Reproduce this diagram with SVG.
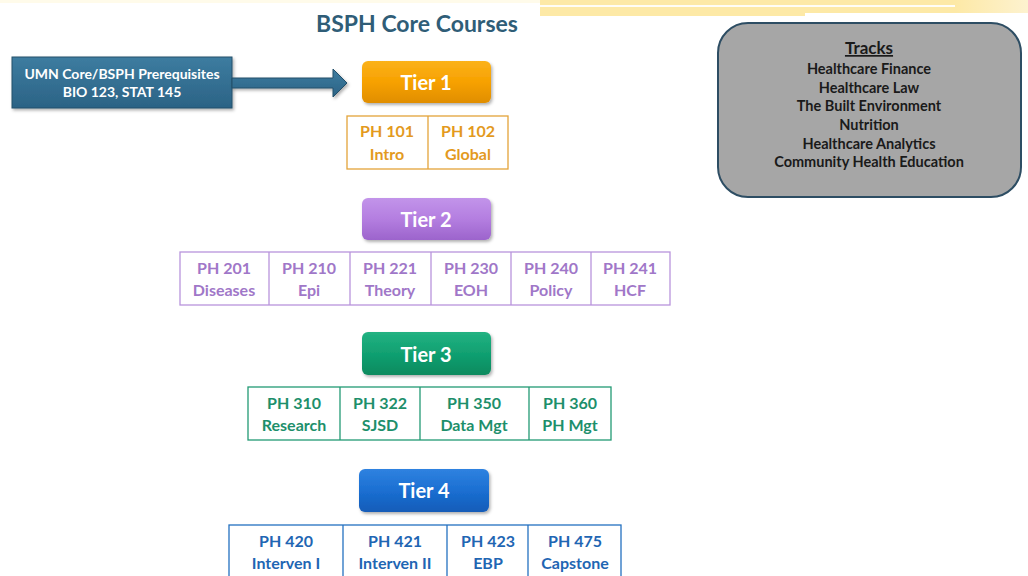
<svg xmlns="http://www.w3.org/2000/svg" width="1028" height="576" viewBox="0 0 1028 576">
  <defs>
    <linearGradient id="gOrange" x1="0" y1="0" x2="0" y2="1">
      <stop offset="0" stop-color="#fbb21a"/>
      <stop offset="0.5" stop-color="#f7a100"/>
      <stop offset="1" stop-color="#e08e00"/>
    </linearGradient>
    <linearGradient id="gPurple" x1="0" y1="0" x2="0" y2="1">
      <stop offset="0" stop-color="#c294ea"/>
      <stop offset="0.5" stop-color="#b47ee0"/>
      <stop offset="1" stop-color="#9c64cc"/>
    </linearGradient>
    <linearGradient id="gGreen" x1="0" y1="0" x2="0" y2="1">
      <stop offset="0" stop-color="#22b282"/>
      <stop offset="0.5" stop-color="#11a071"/>
      <stop offset="1" stop-color="#0a8a5e"/>
    </linearGradient>
    <linearGradient id="gBlue" x1="0" y1="0" x2="0" y2="1">
      <stop offset="0" stop-color="#2f82e0"/>
      <stop offset="0.5" stop-color="#1b6fd2"/>
      <stop offset="1" stop-color="#125cb8"/>
    </linearGradient>
    <linearGradient id="gSteel" x1="0" y1="0" x2="0" y2="1">
      <stop offset="0" stop-color="#3d7ca0"/>
      <stop offset="1" stop-color="#2b6385"/>
    </linearGradient>
    <linearGradient id="gBand" x1="0" y1="0" x2="1" y2="0">
      <stop offset="0" stop-color="#fde9a6"/>
      <stop offset="0.85" stop-color="#fde9a6"/>
      <stop offset="1" stop-color="#fdf2cf"/>
    </linearGradient>
    <filter id="shadow" x="-10%" y="-10%" width="125%" height="140%">
      <feDropShadow dx="1.5" dy="2" stdDeviation="1.5" flood-color="#000" flood-opacity="0.3"/>
    </filter>
    <style>
      text { font-family: Lato, "Liberation Sans", sans-serif; font-weight: bold; text-anchor: middle; }
      .title { font-size: 23px; fill: #2f5d77; }
      .btn { font-size: 20px; fill: #ffffff; }
      .pre { font-size: 14px; fill: #ffffff; }
      .trk { font-size: 14.5px; fill: #1a1a1a; }
      .trkh { font-size: 17px; fill: #1a1a1a; text-decoration: underline; }
      .course { font-size: 16px; }
      .cell { fill: #ffffff; stroke-width: 1.3; }
      .t1 rect.cell, .t1 line { stroke: #e3a43a; }
      .t1 text { fill: #e39a1e; }
      .t2 rect.cell, .t2 line { stroke: #b894dc; }
      .t2 text { fill: #a077c8; }
      .t3 rect.cell, .t3 line { stroke: #239a74; }
      .t3 text { fill: #1d8f6b; }
      .t4 rect.cell, .t4 line { stroke: #2471c0; }
      .t4 text { fill: #1f66b3; }
      line { stroke-width: 1.3; }
    </style>
  </defs>

  <rect width="1028" height="576" fill="#ffffff"/>

  <!-- header band -->
  <rect x="0" y="0" width="1028" height="3" fill="#fffbea"/>
  <rect x="540" y="0" width="488" height="16" fill="url(#gBand)"/>
  <rect x="540" y="5" width="415" height="2" fill="#fffdf5"/>
  <rect x="805" y="13" width="223" height="3" fill="#ffffff"/>

  <text class="title" x="417" y="32">BSPH Core Courses</text>

  <!-- prerequisites -->
  <g id="prereq">
    <rect x="12" y="57" width="220" height="51" fill="url(#gSteel)" stroke="#24506b" stroke-width="1" filter="url(#shadow)"/>
    <text class="pre" x="122" y="79">UMN Core/BSPH Prerequisites</text>
    <text class="pre" x="122" y="97">BIO 123, STAT 145</text>
  </g>

  <g id="connectors">
    <path d="M232,78 L333,78 L333,69 L347,83 L333,97 L333,88 L232,88 Z" fill="url(#gSteel)" stroke="#24506b" stroke-width="1" filter="url(#shadow)"/>
  </g>

  <!-- tracks -->
  <g id="tracks">
    <rect x="718" y="23" width="303" height="174" rx="30" ry="30" fill="#a6a6a6" stroke="#2d4d63" stroke-width="2"/>
    <text class="trkh" x="869" y="54">Tracks</text>
    <text class="trk" x="869" y="74">Healthcare Finance</text>
    <text class="trk" x="869" y="93">Healthcare Law</text>
    <text class="trk" x="869" y="111">The Built Environment</text>
    <text class="trk" x="869" y="130">Nutrition</text>
    <text class="trk" x="869" y="149">Healthcare Analytics</text>
    <text class="trk" x="869" y="167">Community Health Education</text>
  </g>

  <!-- Tier 1 -->
  <g id="tier1">
    <rect x="362" y="61" width="129" height="42" rx="6" fill="url(#gOrange)" filter="url(#shadow)"/>
    <text class="btn" x="426" y="90">Tier 1</text>
  </g>
  <g id="tier1-courses" class="t1">
    <rect class="cell" x="347" y="116" width="161" height="53"/>
    <line x1="428" y1="116" x2="428" y2="169"/>
    <text class="course" x="387" y="137">PH 101</text>
    <text class="course" x="387" y="160">Intro</text>
    <text class="course" x="468" y="137">PH 102</text>
    <text class="course" x="468" y="160">Global</text>
  </g>

  <!-- Tier 2 -->
  <g id="tier2">
    <rect x="362" y="198" width="129" height="42" rx="6" fill="url(#gPurple)" filter="url(#shadow)"/>
    <text class="btn" x="426" y="227">Tier 2</text>
  </g>
  <g id="tier2-courses" class="t2">
    <rect class="cell" x="180" y="252" width="490" height="53"/>
    <line x1="269" y1="252" x2="269" y2="305"/>
    <line x1="350" y1="252" x2="350" y2="305"/>
    <line x1="431" y1="252" x2="431" y2="305"/>
    <line x1="511" y1="252" x2="511" y2="305"/>
    <line x1="591" y1="252" x2="591" y2="305"/>
    <text class="course" x="224" y="274">PH 201</text>
    <text class="course" x="224" y="296">Diseases</text>
    <text class="course" x="309" y="274">PH 210</text>
    <text class="course" x="309" y="296">Epi</text>
    <text class="course" x="390" y="274">PH 221</text>
    <text class="course" x="390" y="296">Theory</text>
    <text class="course" x="471" y="274">PH 230</text>
    <text class="course" x="471" y="296">EOH</text>
    <text class="course" x="551" y="274">PH 240</text>
    <text class="course" x="551" y="296">Policy</text>
    <text class="course" x="630" y="274">PH 241</text>
    <text class="course" x="630" y="296">HCF</text>
  </g>

  <!-- Tier 3 -->
  <g id="tier3">
    <rect x="362" y="332" width="129" height="43" rx="6" fill="url(#gGreen)" filter="url(#shadow)"/>
    <text class="btn" x="426" y="362">Tier 3</text>
  </g>
  <g id="tier3-courses" class="t3">
    <rect class="cell" x="248" y="387" width="363" height="53"/>
    <line x1="340" y1="387" x2="340" y2="440"/>
    <line x1="420" y1="387" x2="420" y2="440"/>
    <line x1="529" y1="387" x2="529" y2="440"/>
    <text class="course" x="294" y="409">PH 310</text>
    <text class="course" x="294" y="431">Research</text>
    <text class="course" x="380" y="409">PH 322</text>
    <text class="course" x="380" y="431">SJSD</text>
    <text class="course" x="474" y="409">PH 350</text>
    <text class="course" x="474" y="431">Data Mgt</text>
    <text class="course" x="570" y="409">PH 360</text>
    <text class="course" x="570" y="431">PH Mgt</text>
  </g>

  <!-- Tier 4 -->
  <g id="tier4">
    <rect x="359" y="469" width="130" height="43" rx="6" fill="url(#gBlue)" filter="url(#shadow)"/>
    <text class="btn" x="424" y="498">Tier 4</text>
  </g>
  <g id="tier4-courses" class="t4">
    <rect class="cell" x="229" y="525" width="392" height="60"/>
    <line x1="343" y1="525" x2="343" y2="576"/>
    <line x1="447" y1="525" x2="447" y2="576"/>
    <line x1="528" y1="525" x2="528" y2="576"/>
    <text class="course" x="286" y="547">PH 420</text>
    <text class="course" x="286" y="569">Interven I</text>
    <text class="course" x="395" y="547">PH 421</text>
    <text class="course" x="395" y="569">Interven II</text>
    <text class="course" x="488" y="547">PH 423</text>
    <text class="course" x="488" y="569">EBP</text>
    <text class="course" x="575" y="547">PH 475</text>
    <text class="course" x="575" y="569">Capstone</text>
  </g>
</svg>
